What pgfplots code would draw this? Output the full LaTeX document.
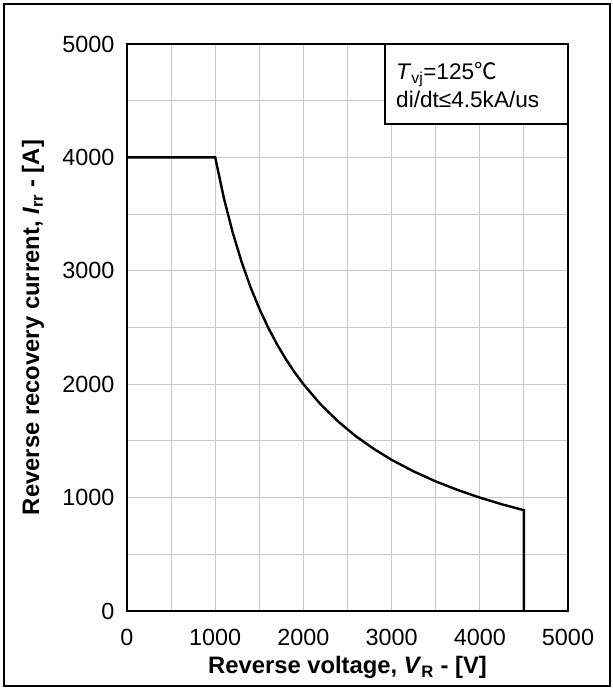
\documentclass[border=0pt]{standalone}
\usepackage{fontspec}
\setmainfont{Liberation Sans}
\newfontfamily\cjk{Noto Sans CJK SC}
\usepackage{pgfplots}
\pgfplotsset{compat=1.18}
\definecolor{gridgray}{HTML}{C8C8C8}

\begin{document}
\begin{tikzpicture}
\useasboundingbox (-127pt,-77pt) rectangle (486pt,611pt);
\draw[line width=2pt] (-123pt,-75pt) rectangle (483pt,607pt);
\begin{axis}[
    at={(0pt,0pt)}, anchor=south west,
    scale only axis,
    width=441pt, height=567pt,
    xmin=0, xmax=5000, ymin=0, ymax=5000,
    xtick={0,1000,...,5000}, ytick={0,1000,...,5000},
    minor xtick={500,1500,...,4500}, minor ytick={500,1500,...,4500},
    grid=both,
    major grid style={gridgray, line width=1pt},
    minor grid style={gridgray, line width=1pt},
    major tick length=0pt, minor tick length=0pt,
    axis line style={line width=1.8pt},
    scaled ticks=false,
    /pgf/number format/1000 sep={},
    /pgf/number format/assume math mode=true,
    tick label style={font=\fontsize{23.4}{27}\selectfont},
    xticklabel style={yshift=-14.5pt},
    yticklabel style={xshift=-9pt},
    label style={font=\fontsize{23.8}{27}\selectfont\bfseries},
    xlabel={Reverse voltage, \textit{V}\textsubscript{R} - [V]},
    ylabel={Reverse recovery current, \textit{I}\textsubscript{rr} - [A]},
    xlabel style={at={(axis description cs:0.5,-0.111)}, anchor=base},
    ylabel style={at={(axis description cs:-0.213,0.5)}, anchor=center},
]
% reverse recovery current limit
\addplot[black, line width=2.4pt] coordinates {
    (0,4000) (1000,4000) (1100,3636) (1200,3333) (1300,3077) (1400,2857)
    (1500,2667) (1600,2500) (1700,2353) (1800,2222) (1900,2105) (2000,2000)
    (2200,1818) (2400,1667) (2600,1538) (2800,1429) (3000,1333) (3250,1231)
    (3500,1143) (3750,1067) (4000,1000) (4250,941) (4500,889) (4500,0)
};
\draw[line width=1.6pt, fill=white] (axis cs:2925,4295) rectangle (axis cs:5000,5000);
\node[anchor=base west, inner sep=0pt, font=\fontsize{22.6}{26}\selectfont]
    at (axis cs:3050,4691) {\textit{T}\textsubscript{vj}=125{\cjk ℃}};
\node[anchor=base west, inner sep=0pt, font=\fontsize{22.6}{26}\selectfont]
    at (axis cs:3050,4444) {di/dt≤4.5kA/us};
\end{axis}
\end{tikzpicture}
\end{document}
